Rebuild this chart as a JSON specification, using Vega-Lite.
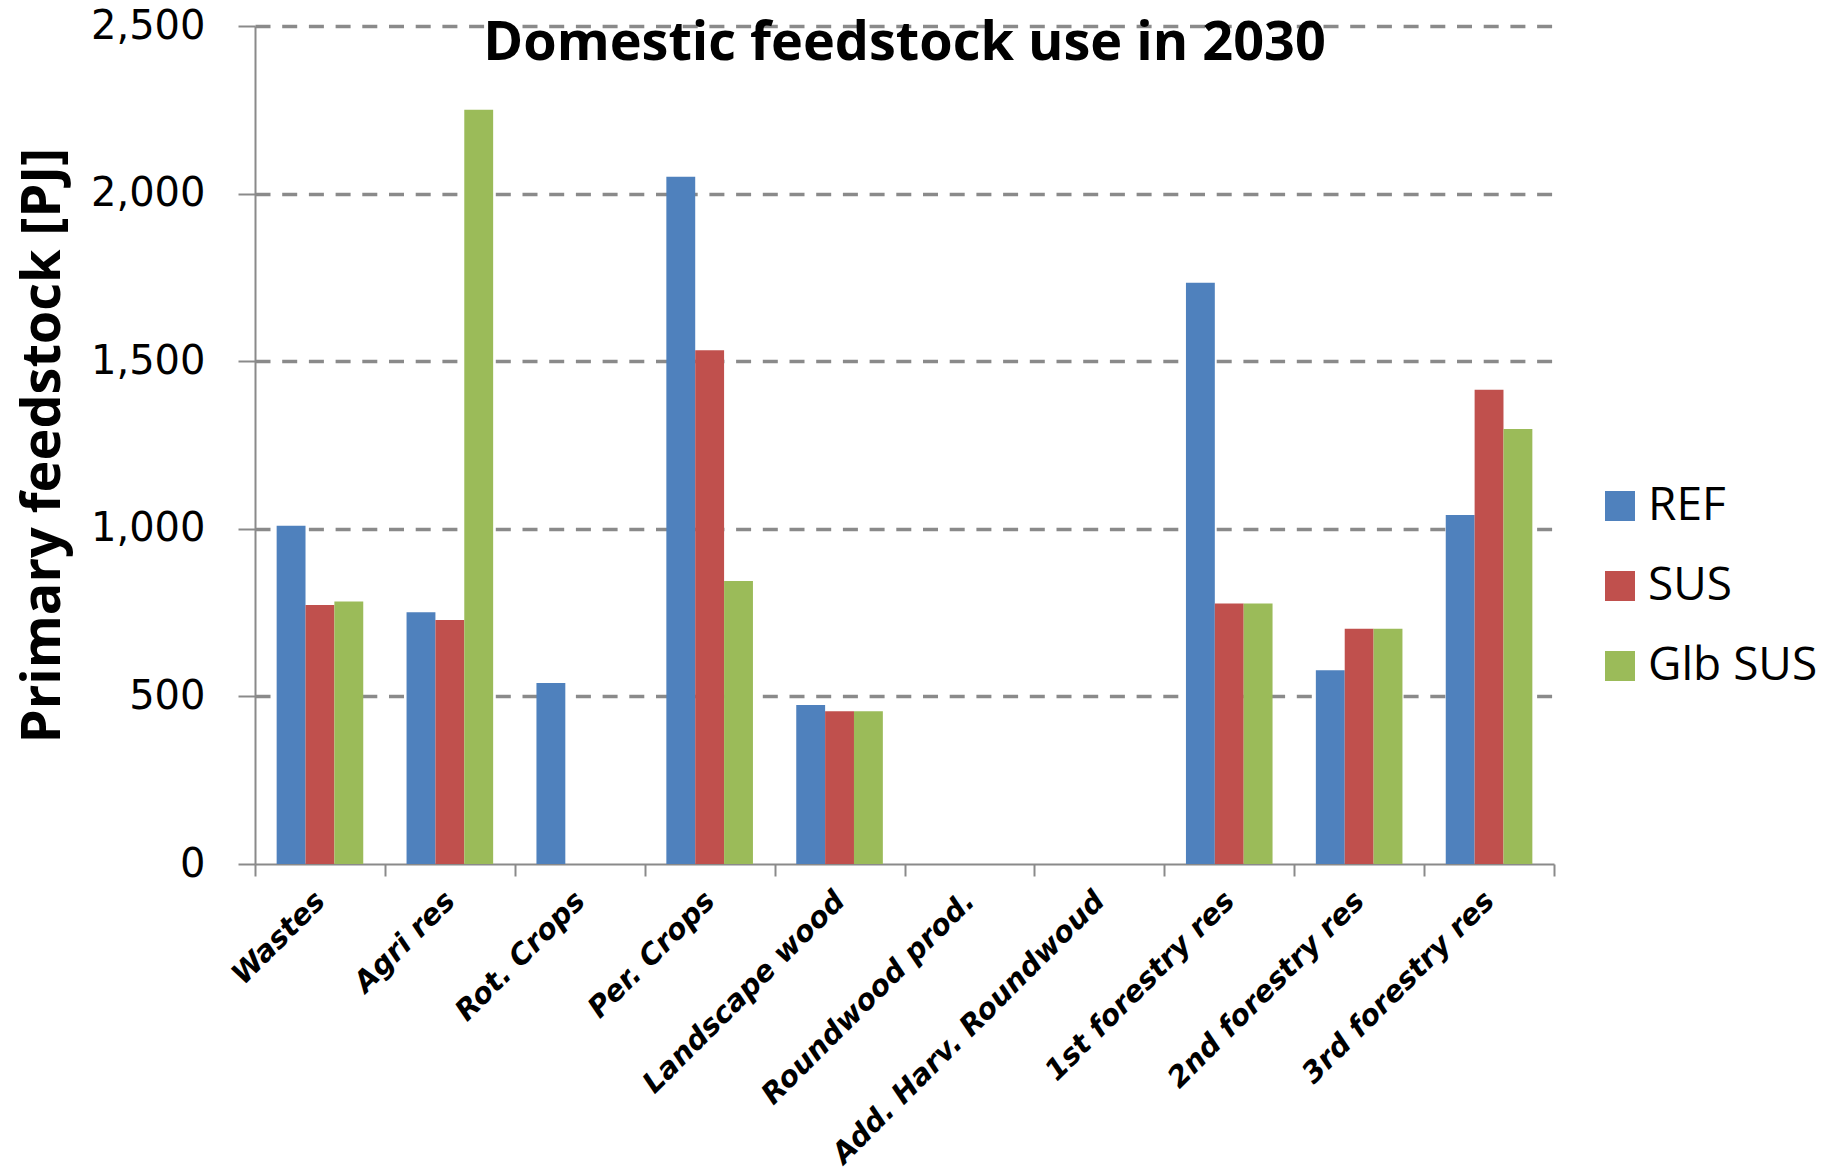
{
  "$schema": "https://vega.github.io/schema/vega-lite/v6.json",
  "width": 1299,
  "height": 838,
  "autosize": {"type": "none"},
  "padding": {"left": 255, "top": 26, "right": 281, "bottom": 303},
  "background": "white",
  "title": {
    "text": "Domestic feedstock use in 2030",
    "anchor": "middle",
    "frame": "group",
    "font": "Open Sans",
    "fontWeight": "bold",
    "fontSize": 54,
    "color": "black",
    "baseline": "alphabetic",
    "offset": 0,
    "dy": 108
  },
  "data": {
    "values": [
      {"category": "Wastes", "scenario": "REF", "value": 1009},
      {"category": "Wastes", "scenario": "SUS", "value": 773},
      {"category": "Wastes", "scenario": "Glb SUS", "value": 783},
      {"category": "Agri res", "scenario": "REF", "value": 751},
      {"category": "Agri res", "scenario": "SUS", "value": 728},
      {"category": "Agri res", "scenario": "Glb SUS", "value": 2250},
      {"category": "Rot. Crops", "scenario": "REF", "value": 540},
      {"category": "Rot. Crops", "scenario": "SUS", "value": 0},
      {"category": "Rot. Crops", "scenario": "Glb SUS", "value": 0},
      {"category": "Per. Crops", "scenario": "REF", "value": 2050},
      {"category": "Per. Crops", "scenario": "SUS", "value": 1533},
      {"category": "Per. Crops", "scenario": "Glb SUS", "value": 844},
      {"category": "Landscape wood", "scenario": "REF", "value": 474},
      {"category": "Landscape wood", "scenario": "SUS", "value": 456},
      {"category": "Landscape wood", "scenario": "Glb SUS", "value": 456},
      {"category": "Roundwood prod.", "scenario": "REF", "value": 0},
      {"category": "Roundwood prod.", "scenario": "SUS", "value": 0},
      {"category": "Roundwood prod.", "scenario": "Glb SUS", "value": 0},
      {"category": "Add. Harv. Roundwoud", "scenario": "REF", "value": 0},
      {"category": "Add. Harv. Roundwoud", "scenario": "SUS", "value": 0},
      {"category": "Add. Harv. Roundwoud", "scenario": "Glb SUS", "value": 0},
      {"category": "1st forestry res", "scenario": "REF", "value": 1734},
      {"category": "1st forestry res", "scenario": "SUS", "value": 777},
      {"category": "1st forestry res", "scenario": "Glb SUS", "value": 777},
      {"category": "2nd forestry res", "scenario": "REF", "value": 578},
      {"category": "2nd forestry res", "scenario": "SUS", "value": 702},
      {"category": "2nd forestry res", "scenario": "Glb SUS", "value": 702},
      {"category": "3rd forestry res", "scenario": "REF", "value": 1041},
      {"category": "3rd forestry res", "scenario": "SUS", "value": 1415},
      {"category": "3rd forestry res", "scenario": "Glb SUS", "value": 1298}
    ]
  },
  "mark": {"type": "bar"},
  "encoding": {
    "x": {
      "field": "category",
      "type": "nominal",
      "sort": ["Wastes", "Agri res", "Rot. Crops", "Per. Crops", "Landscape wood", "Roundwood prod.", "Add. Harv. Roundwoud", "1st forestry res", "2nd forestry res", "3rd forestry res"],
      "scale": {"paddingInner": 0, "paddingOuter": 0},
      "axis": {
        "title": null,
        "tickBand": "extent",
        "domainColor": "#8a8a8a",
        "domainWidth": 2,
        "tickColor": "#8a8a8a",
        "tickWidth": 2,
        "tickSize": 12,
        "labelAngle": -45,
        "labelAlign": "right",
        "labelBaseline": "middle",
        "labelPadding": 20,
        "labelFont": "DejaVu Sans",
        "labelFontWeight": "bold",
        "labelFontStyle": "italic",
        "labelFontSize": 29,
        "labelColor": "black",
        "labelOverlap": false,
        "labelLimit": 0,
        "grid": false
      }
    },
    "xOffset": {
      "field": "scenario",
      "sort": ["REF", "SUS", "Glb SUS"],
      "scale": {"paddingInner": 0, "paddingOuter": 0.75}
    },
    "y": {
      "field": "value",
      "type": "quantitative",
      "scale": {"domain": [0, 2500], "nice": false},
      "axis": {
        "title": "Primary feedstock [PJ]",
        "titleFont": "Open Sans",
        "titleFontWeight": "bold",
        "titleFontSize": 54,
        "titleColor": "black",
        "titleAngle": -90,
        "titleAlign": "center",
        "titleBaseline": "middle",
        "titleX": -212,
        "titleY": 419,
        "values": [0, 500, 1000, 1500, 2000, 2500],
        "format": ",.0f",
        "labelFont": "DejaVu Sans",
        "labelFontSize": 40,
        "labelColor": "black",
        "labelPadding": 33,
        "tickSize": 17,
        "tickColor": "#8a8a8a",
        "tickWidth": 2,
        "domainColor": "#8a8a8a",
        "domainWidth": 2,
        "grid": true,
        "gridColor": "#8a8a8a",
        "gridWidth": 3.5,
        "gridDash": [15, 11.7],
        "gridOpacity": {"condition": {"test": "datum.value === 0", "value": 0}, "value": 1}
      }
    },
    "color": {
      "field": "scenario",
      "type": "nominal",
      "scale": {"domain": ["REF", "SUS", "Glb SUS"], "range": ["#4F81BD", "#C0504D", "#9BBB59"]},
      "legend": {
        "title": null,
        "orient": "none",
        "legendX": 1342,
        "legendY": 457,
        "direction": "vertical",
        "symbolType": "square",
        "symbolSize": 900,
        "symbolStrokeWidth": 0,
        "labelFont": "Open Sans",
        "labelFontSize": 46,
        "labelColor": "black",
        "labelOffset": 5,
        "labelLimit": 0,
        "rowPadding": 34
      }
    }
  },
  "config": {"view": {"stroke": null}}
}
